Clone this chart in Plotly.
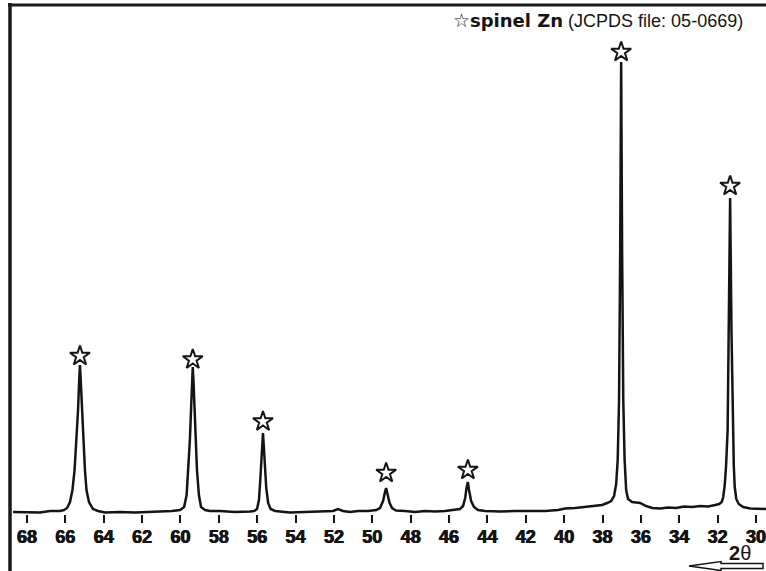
import plotly.graph_objects as go

# ---- data (2θ in degrees, intensity in a.u.) ----
two_theta = [68.73, 68.00, 67.32, 66.80, 66.28, 66.07, 65.91, 65.76, 65.63, 65.52,
             65.42, 65.34, 65.28, 65.24, 65.20, 65.13, 65.05, 64.98, 64.90, 64.77,
             64.56, 64.30, 63.93, 63.15, 62.37, 61.59, 60.81, 60.44, 60.02, 59.81,
             59.68, 59.59, 59.51, 59.45, 59.40, 59.36, 59.32, 59.27, 59.21, 59.14,
             59.04, 58.93, 58.72, 58.46, 57.94, 57.16, 56.37, 56.16, 56.01, 55.91,
             55.84, 55.77, 55.73, 55.70, 55.66, 55.60, 55.53, 55.43, 55.30, 55.07,
             54.29, 53.51, 52.72, 52.05, 51.79, 51.53, 51.16, 50.74, 50.22, 49.80,
             49.60, 49.44, 49.34, 49.28, 49.21, 49.10, 48.97, 48.76, 48.29, 47.77,
             47.25, 46.73, 46.21, 45.69, 45.43, 45.27, 45.16, 45.09, 45.02, 44.96,
             44.85, 44.70, 44.49, 44.12, 43.34, 42.56, 41.78, 40.99, 40.32, 39.95,
             39.43, 38.91, 38.39, 38.02, 37.76, 37.55, 37.40, 37.29, 37.21, 37.14,
             37.08, 37.03, 36.98, 36.92, 36.85, 36.77, 36.67, 36.46, 36.04, 35.73,
             35.41, 35.00, 34.58, 34.16, 33.75, 33.33, 32.91, 32.49, 32.13, 31.92,
             31.79, 31.71, 31.63, 31.56, 31.48, 31.41, 31.35, 31.28, 31.22, 31.16,
             31.11, 31.03, 30.90, 30.67, 30.30, 29.47]
intensity = [4, 4, 3, 6, 6, 8, 12, 24, 48, 88,
             148, 208, 268, 298, 268, 208, 148, 88, 48, 24,
             10, 6, 3, 4, 3, 4, 5, 6, 8, 14,
             38, 88, 148, 208, 264, 294, 264, 208, 148, 88,
             38, 14, 8, 6, 6, 4, 5, 6, 10, 28,
             68, 112, 144, 162, 138, 98, 52, 22, 10, 6,
             3, 4, 5, 6, 10, 6, 4, 6, 6, 8,
             12, 26, 44, 52, 40, 22, 12, 7, 6, 4,
             6, 5, 6, 8, 10, 16, 32, 52, 64, 48,
             26, 14, 8, 6, 5, 6, 6, 6, 8, 11,
             12, 14, 16, 18, 22, 26, 36, 60, 108, 228,
             528, 904, 528, 228, 108, 48, 30, 24, 22, 16,
             12, 11, 13, 12, 15, 14, 16, 15, 18, 20,
             24, 34, 58, 98, 168, 368, 632, 368, 168, 98,
             54, 30, 20, 14, 11, 10]

# spinel reflections marked with stars
star_theta = [65.24, 59.36, 55.70, 49.28, 45.02, 37.03, 31.35]
star_level = [316, 309, 185, 82, 88, 924, 656]

tick_vals = [68, 66, 64, 62, 60, 58, 56, 54, 52, 50, 48, 46, 44, 42, 40, 38, 36, 34, 32, 30]
tick_text = [str(v) for v in tick_vals]

legend_bold = "spinel Zn"
legend_rest = " (JCPDS file: 05-0669)"

# ---- layout geometry (pixels) ----
W, H = 766, 571
ML, MR, MT, MB = 13, 0, 4, 57
PW, PH = W - ML - MR, H - MT - MB
INK = "#141414"


def px(x, y):
    return (x - ML) / PW, (H - MB - y) / PH


fig = go.Figure()
fig.add_trace(go.Scatter(x=two_theta, y=intensity, mode="lines",
                         line=dict(color=INK, width=2.5),
                         hoverinfo="skip", showlegend=False))
fig.add_trace(go.Scatter(x=star_theta, y=star_level, mode="markers",
                         marker=dict(symbol="star-open", size=15, color=INK,
                                     line=dict(width=2, color=INK)),
                         cliponaxis=False, showlegend=False))

shapes = []
# frame lines (left and top)
x0, y0 = px(10, 571)
x1, y1 = px(10, 3)
shapes.append(dict(type="line", xref="paper", yref="paper", x0=x0, y0=y0, x1=x1, y1=y1,
                   line=dict(color="#1a1a1a", width=3.5)))
x0, y0 = px(8, 5)
x1, y1 = px(766, 5)
shapes.append(dict(type="line", xref="paper", yref="paper", x0=x0, y0=y0, x1=x1, y1=y1,
                   line=dict(color="#1a1a1a", width=3)))
# hollow arrow pointing left
pts = [(689, 566), (721, 561.5), (721, 563.5), (763, 563.5), (763, 568.5), (721, 568.5), (721, 570.5)]
path = "M " + " L ".join("%f,%f" % px(a, b) for a, b in pts) + " Z"
shapes.append(dict(type="path", xref="paper", yref="paper", path=path,
                   line=dict(color=INK, width=1.5), fillcolor="white"))

ax, ay = px(745, 20)
bx, by = px(740, 553)
thick = "0.45px 0 0 %s, -0.45px 0 0 %s" % (INK, INK)
annotations = [
    dict(xref="paper", yref="paper", x=ax, y=ay, xanchor="right", yanchor="middle",
         showarrow=False,
         text=('<span style="font-size:19px">☆</span>'
               '<b><span style="font-family:DejaVu Sans">' + legend_bold + '</span></b>'
               + legend_rest),
         font=dict(family="Liberation Sans", size=18, color=INK)),
    dict(xref="paper", yref="paper", x=bx, y=by, xanchor="center", yanchor="middle",
         showarrow=False, text="<b>2</b>θ",
         font=dict(family="Liberation Sans", size=20, color=INK)),
]

fig.update_layout(
    width=W, height=H,
    margin=dict(l=ML, r=MR, t=MT, b=MB),
    paper_bgcolor="white", plot_bgcolor="white",
    shapes=shapes, annotations=annotations,
    xaxis=dict(range=[68.73, 29.48], tickvals=tick_vals, ticktext=tick_text,
               ticks="outside", ticklen=8, tickwidth=2, tickcolor=INK,
               ticklabeloverflow="allow", ticklabelstandoff=-2,
               showline=False, showgrid=False, zeroline=False,
               tickfont=dict(family="Liberation Sans", size=18, color=INK,
                             weight="bold", shadow=thick)),
    yaxis=dict(range=[0, 1020], visible=False, fixedrange=True),
)

fig.write_html("out.html")
